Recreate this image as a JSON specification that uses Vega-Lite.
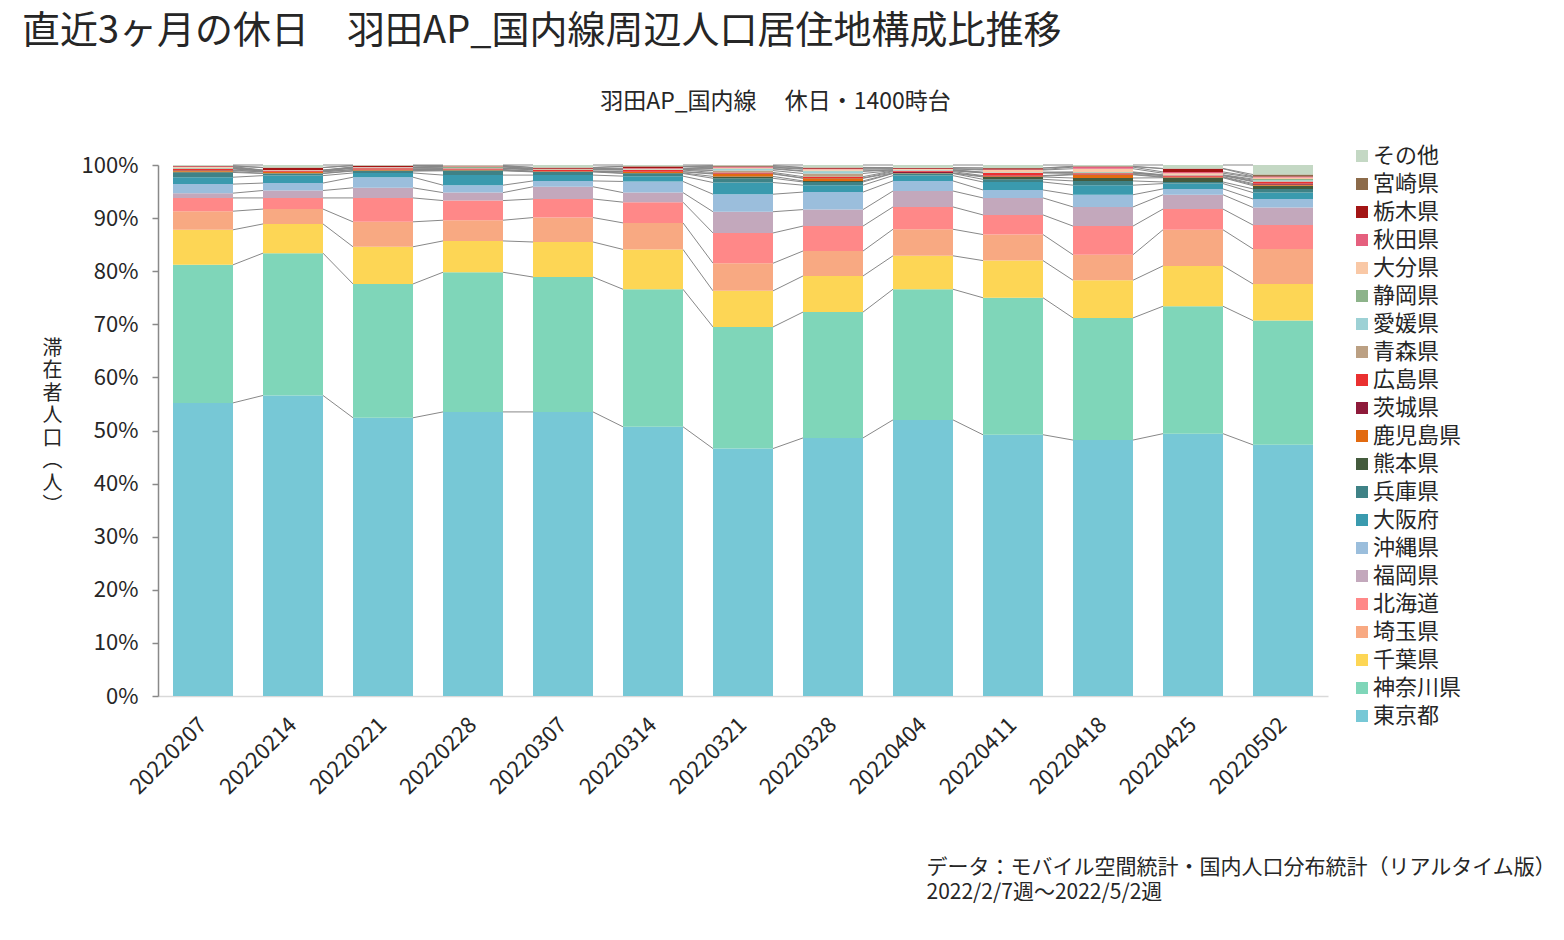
{
  "$schema": "https://vega.github.io/schema/vega-lite/v6.json",
  "width": 1170,
  "height": 531,
  "autosize": {"type": "none"},
  "padding": {"left": 158, "top": 165, "right": 236, "bottom": 244},
  "background": "white",
  "config": {"font": "Noto Sans CJK JP", "view": {"stroke": null}},
  "title": {
    "text": "直近3ヶ月の休日　羽田AP_国内線周辺人口居住地構成比推移",
    "anchor": "start",
    "frame": "group",
    "fontSize": 38,
    "fontWeight": "normal",
    "color": "#262626",
    "dx": -136,
    "offset": 39
  },
  "data": {
    "values": [
      {"w": "20220207", "東京都": 55.2, "神奈川県": 26.0, "千葉県": 6.6, "埼玉県": 3.5, "北海道": 2.5, "福岡県": 0.9, "沖縄県": 1.7, "大阪府": 1.3, "兵庫県": 0.9, "熊本県": 0.15, "鹿児島県": 0.2, "茨城県": 0.1, "広島県": 0.2, "青森県": 0.1, "愛媛県": 0.05, "静岡県": 0.1, "大分県": 0.1, "秋田県": 0.1, "栃木県": 0.1, "宮崎県": 0.05, "その他": 0.15},
      {"w": "20220214", "東京都": 56.6, "神奈川県": 26.8, "千葉県": 5.5, "埼玉県": 2.8, "北海道": 2.1, "福岡県": 1.4, "沖縄県": 1.4, "大阪府": 1.4, "兵庫県": 0.4, "熊本県": 0.05, "鹿児島県": 0.25, "茨城県": 0.05, "広島県": 0.1, "青森県": 0.05, "愛媛県": 0.02, "静岡県": 0.03, "大分県": 0.05, "秋田県": 0.05, "栃木県": 0.45, "宮崎県": 0.05, "その他": 0.45},
      {"w": "20220221", "東京都": 52.4, "神奈川県": 25.2, "千葉県": 7.0, "埼玉県": 4.7, "北海道": 4.5, "福岡県": 1.9, "沖縄県": 2.0, "大阪府": 0.8, "兵庫県": 0.35, "熊本県": 0.1, "鹿児島県": 0.15, "茨城県": 0.05, "広島県": 0.25, "青森県": 0.05, "愛媛県": 0.03, "静岡県": 0.05, "大分県": 0.05, "秋田県": 0.05, "栃木県": 0.25, "宮崎県": 0.02, "その他": 0.1},
      {"w": "20220228", "東京都": 53.5, "神奈川県": 26.3, "千葉県": 5.9, "埼玉県": 3.9, "北海道": 3.7, "福岡県": 1.5, "沖縄県": 1.4, "大阪府": 1.9, "兵庫県": 0.8, "熊本県": 0.1, "鹿児島県": 0.1, "茨城県": 0.05, "広島県": 0.2, "青森県": 0.05, "愛媛県": 0.05, "静岡県": 0.2, "大分県": 0.05, "秋田県": 0.05, "栃木県": 0.1, "宮崎県": 0.05, "その他": 0.1},
      {"w": "20220307", "東京都": 53.5, "神奈川県": 25.4, "千葉県": 6.6, "埼玉県": 4.6, "北海道": 3.5, "福岡県": 2.3, "沖縄県": 1.1, "大阪府": 1.1, "兵庫県": 0.6, "熊本県": 0.05, "鹿児島県": 0.05, "茨城県": 0.05, "広島県": 0.25, "青森県": 0.03, "愛媛県": 0.02, "静岡県": 0.05, "大分県": 0.05, "秋田県": 0.05, "栃木県": 0.2, "宮崎県": 0.05, "その他": 0.45},
      {"w": "20220314", "東京都": 50.7, "神奈川県": 25.9, "千葉県": 7.5, "埼玉県": 5.0, "北海道": 3.9, "福岡県": 1.8, "沖縄県": 2.1, "大阪府": 1.0, "兵庫県": 0.5, "熊本県": 0.1, "鹿児島県": 0.2, "茨城県": 0.05, "広島県": 0.3, "青森県": 0.05, "愛媛県": 0.05, "静岡県": 0.05, "大分県": 0.1, "秋田県": 0.1, "栃木県": 0.3, "宮崎県": 0.05, "その他": 0.25},
      {"w": "20220321", "東京都": 46.6, "神奈川県": 22.9, "千葉県": 6.8, "埼玉県": 5.2, "北海道": 5.7, "福岡県": 4.0, "沖縄県": 3.3, "大阪府": 2.2, "兵庫県": 0.8, "熊本県": 0.35, "鹿児島県": 0.45, "茨城県": 0.1, "広島県": 0.2, "青森県": 0.35, "愛媛県": 0.3, "静岡県": 0.1, "大分県": 0.15, "秋田県": 0.1, "栃木県": 0.1, "宮崎県": 0.2, "その他": 0.1},
      {"w": "20220328", "東京都": 48.6, "神奈川県": 23.7, "千葉県": 6.8, "埼玉県": 4.7, "北海道": 4.7, "福岡県": 3.1, "沖縄県": 3.3, "大阪府": 1.3, "兵庫県": 0.6, "熊本県": 0.2, "鹿児島県": 0.5, "茨城県": 0.05, "広島県": 0.25, "青森県": 0.6, "愛媛県": 0.4, "静岡県": 0.1, "大分県": 0.3, "秋田県": 0.1, "栃木県": 0.2, "宮崎県": 0.05, "その他": 0.45},
      {"w": "20220404", "東京都": 52.0, "神奈川県": 24.6, "千葉県": 6.3, "埼玉県": 5.0, "北海道": 4.2, "福岡県": 3.0, "沖縄県": 1.9, "大阪府": 1.0, "兵庫県": 0.4, "熊本県": 0.05, "鹿児島県": 0.05, "茨城県": 0.25, "広島県": 0.15, "青森県": 0.05, "愛媛県": 0.1, "静岡県": 0.05, "大分県": 0.15, "秋田県": 0.05, "栃木県": 0.15, "宮崎県": 0.05, "その他": 0.5},
      {"w": "20220411", "東京都": 49.2, "神奈川県": 25.8, "千葉県": 7.0, "埼玉県": 4.9, "北海道": 3.7, "福岡県": 3.2, "沖縄県": 1.5, "大阪府": 1.5, "兵庫県": 0.5, "熊本県": 0.45, "鹿児島県": 0.15, "茨城県": 0.1, "広島県": 0.5, "青森県": 0.05, "愛媛県": 0.05, "静岡県": 0.05, "大分県": 0.4, "秋田県": 0.1, "栃木県": 0.25, "宮崎県": 0.05, "その他": 0.55},
      {"w": "20220418", "東京都": 48.2, "神奈川県": 23.0, "千葉県": 7.1, "埼玉県": 4.8, "北海道": 5.4, "福岡県": 3.6, "沖縄県": 2.3, "大阪府": 1.8, "兵庫県": 0.8, "熊本県": 0.55, "鹿児島県": 0.6, "茨城県": 0.1, "広島県": 0.2, "青森県": 0.05, "愛媛県": 0.1, "静岡県": 0.1, "大分県": 0.6, "秋田県": 0.3, "栃木県": 0.1, "宮崎県": 0.05, "その他": 0.25},
      {"w": "20220425", "東京都": 49.4, "神奈川県": 24.0, "千葉県": 7.6, "埼玉県": 6.8, "北海道": 3.9, "福岡県": 2.7, "沖縄県": 1.1, "大阪府": 1.0, "兵庫県": 0.3, "熊本県": 0.8, "鹿児島県": 0.1, "茨城県": 0.1, "広島県": 0.2, "青森県": 0.05, "愛媛県": 0.05, "静岡県": 0.05, "大分県": 0.3, "秋田県": 0.25, "栃木県": 0.6, "宮崎県": 0.05, "その他": 0.65},
      {"w": "20220502", "東京都": 47.3, "神奈川県": 23.4, "千葉県": 6.9, "埼玉県": 6.6, "北海道": 4.5, "福岡県": 3.3, "沖縄県": 1.6, "大阪府": 1.2, "兵庫県": 0.7, "熊本県": 0.6, "鹿児島県": 0.2, "茨城県": 0.2, "広島県": 0.35, "青森県": 0.1, "愛媛県": 0.2, "静岡県": 0.2, "大分県": 0.3, "秋田県": 0.15, "栃木県": 0.1, "宮崎県": 0.3, "その他": 1.8}
    ]
  },
  "transform": [
    {"fold": ["東京都", "神奈川県", "千葉県", "埼玉県", "北海道", "福岡県", "沖縄県", "大阪府", "兵庫県", "熊本県", "鹿児島県", "茨城県", "広島県", "青森県", "愛媛県", "静岡県", "大分県", "秋田県", "栃木県", "宮崎県", "その他"], "as": ["s", "v"]},
    {"calculate": "indexof(['その他','宮崎県','栃木県','秋田県','大分県','静岡県','愛媛県','青森県','広島県','茨城県','鹿児島県','熊本県','兵庫県','大阪府','沖縄県','福岡県','北海道','埼玉県','千葉県','神奈川県','東京都'], datum.s)", "as": "k"}
  ],
  "layer": [
    {
      "transform": [
        {"stack": "v", "groupby": ["w"], "sort": [{"field": "k", "order": "descending"}], "offset": "normalize", "as": ["y0", "y1"]},
        {"window": [{"op": "lead", "field": "y1", "as": "ny"}, {"op": "lead", "field": "w", "as": "nw"}], "groupby": ["s"], "sort": [{"field": "w", "order": "ascending"}]},
        {"filter": "datum.nw != null"}
      ],
      "mark": {"type": "rule", "color": "#888888", "strokeWidth": 1},
      "encoding": {
        "x": {
          "field": "w", "type": "nominal", "bandPosition": 1,
          "scale": {"paddingInner": 0.3333, "paddingOuter": 0.1667},
          "axis": {"orient": "top", "labels": false, "ticks": false, "domain": false, "grid": false,
                   "title": "羽田AP_国内線　  休日・1400時台", "titleFontSize": 23, "titleFontWeight": "normal", "titleColor": "#262626",
                   "titleX": 617, "titleY": -64, "titleAlign": "center", "titleBaseline": "middle"}
        },
        "x2": {"field": "nw", "bandPosition": 0},
        "y": {"field": "y1", "type": "quantitative", "scale": {"domain": [0, 1], "nice": false}, "axis": null},
        "y2": {"field": "ny"}
      }
    },
    {
      "mark": {"type": "bar"},
      "encoding": {
        "x": {
          "field": "w", "type": "nominal",
          "scale": {"paddingInner": 0.3333, "paddingOuter": 0.1667},
          "axis": {"orient": "bottom", "labelAngle": -45, "labelAlign": "right", "labelBaseline": "middle", "labelFontSize": 22, "labelColor": "#262626", "labelPadding": 25,
                   "ticks": false, "domainColor": "#d9d9d9", "domainWidth": 1.5, "grid": false,
                   "title": ["データ：モバイル空間統計・国内人口分布統計（リアルタイム版）", "2022/2/7週～2022/5/2週"],
                   "titleFontSize": 21, "titleFontWeight": "normal", "titleColor": "#262626", "titleLineHeight": 25,
                   "titleX": 768, "titleY": 160, "titleAlign": "left", "titleBaseline": "top"}
        },
        "y": {
          "field": "v", "type": "quantitative", "stack": "normalize",
          "scale": {"domain": [0, 1], "nice": false},
          "axis": {"values": [0, 0.1, 0.2, 0.3, 0.4, 0.5, 0.6, 0.7, 0.8, 0.9, 1], "format": ".0%", "grid": false,
                   "labelFontSize": 22, "labelColor": "#262626", "labelPadding": 14,
                   "domainColor": "#898989", "domainWidth": 1.5, "tickColor": "#898989", "tickWidth": 1.5, "tickSize": 6,
                   "title": ["滞", "在", "者", "人", "口", "︵", "人", "︶"], "titleAngle": 0, "titleFontSize": 20, "titleFontWeight": "normal", "titleColor": "#262626",
                   "titleLineHeight": 22.5, "titleX": -106, "titleY": 183, "titleAlign": "center", "titleBaseline": "middle"}
        },
        "color": {
          "field": "s", "type": "nominal",
          "scale": {
            "domain": ["その他", "宮崎県", "栃木県", "秋田県", "大分県", "静岡県", "愛媛県", "青森県", "広島県", "茨城県", "鹿児島県", "熊本県", "兵庫県", "大阪府", "沖縄県", "福岡県", "北海道", "埼玉県", "千葉県", "神奈川県", "東京都"],
            "range": ["#C4D8C4", "#8C6B4A", "#A31515", "#E5607E", "#F9C8A6", "#8DB38A", "#9DD1D5", "#BBA083", "#EA3030", "#8E1A3A", "#E26A10", "#445B3D", "#3F8286", "#3A9AAE", "#9BBEDC", "#C3A8BC", "#FF8888", "#F8A982", "#FDD655", "#7FD6B9", "#77C8D6"]
          },
          "legend": {"orient": "none", "legendX": 1193, "legendY": -20, "direction": "vertical", "title": null,
                     "symbolType": "square", "symbolSize": 144, "symbolStrokeWidth": 0, "symbolOpacity": 1,
                     "labelFontSize": 22, "labelColor": "#262626", "labelOffset": 0, "rowPadding": 6, "labelLimit": 300}
        },
        "order": {"field": "k", "sort": "descending"}
      }
    }
  ],
  "resolve": {"axis": {"x": "independent", "y": "independent"}}
}
